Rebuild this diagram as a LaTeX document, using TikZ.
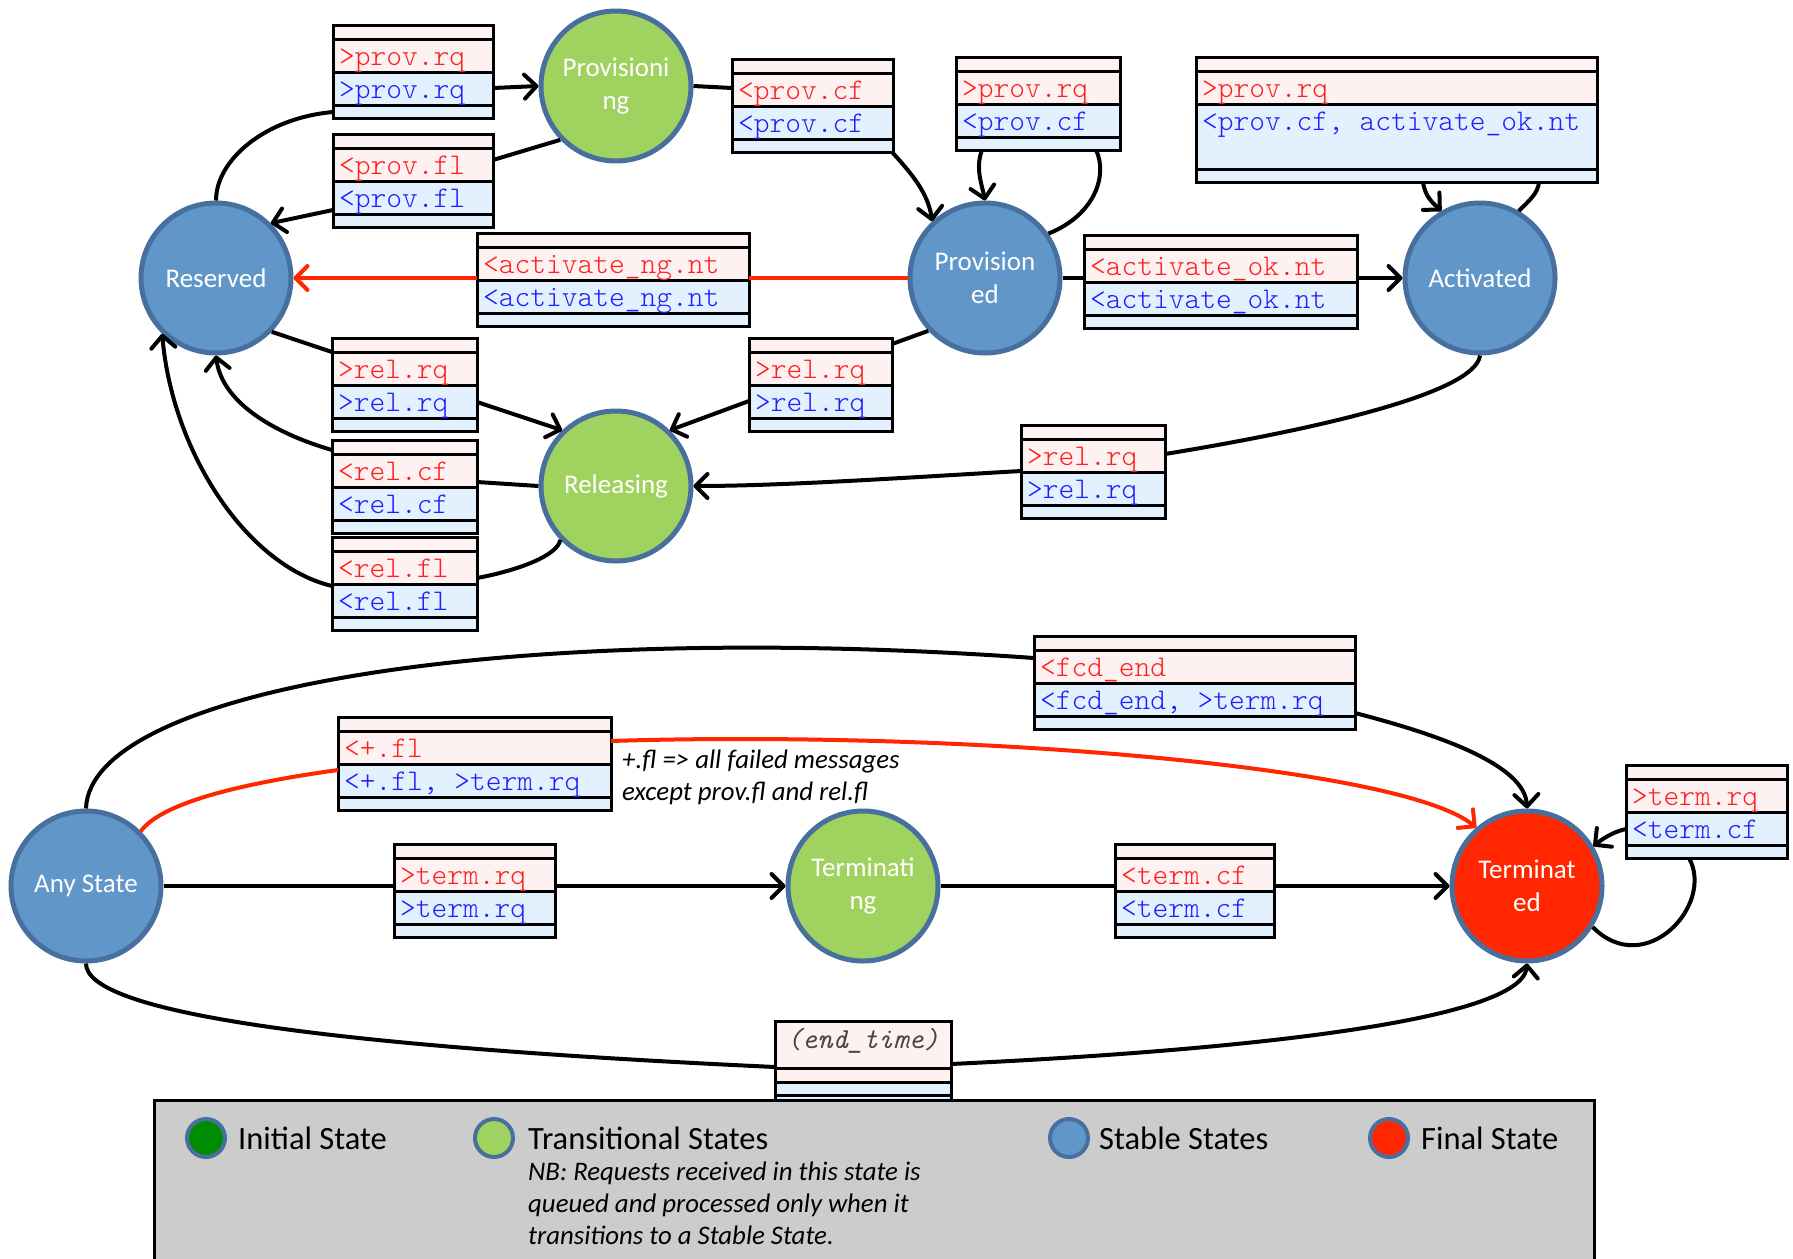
\documentclass[tikz,border=0pt]{standalone}
\usepackage{fontspec}
\setmainfont{Carlito}
\newfontfamily\msgface{lmmonolt10-regular}[Extension=.otf]
\usetikzlibrary{arrows.meta,calc}

\definecolor{stableblue}{RGB}{97,150,200}
\definecolor{ringblue}{RGB}{72,112,158}
\definecolor{transgreen}{RGB}{160,210,96}
\definecolor{finalred}{RGB}{255,38,0}
\definecolor{initgreen}{RGB}{0,140,0}
\definecolor{rowpink}{RGB}{254,241,241}
\definecolor{rowblue}{RGB}{227,240,253}
\definecolor{txtred}{RGB}{255,30,30}
\definecolor{txtblue}{RGB}{30,30,255}
\definecolor{legendgray}{RGB}{204,204,204}
\definecolor{notegray}{RGB}{70,70,70}

\newcommand\msgfont{\fontsize{30}{32}\selectfont\msgface}
\newcommand\timerfont{\fontsize{29}{32}\selectfont\ttfamily\itshape}
\newcommand\statefont{\fontsize{27}{33}\selectfont}
\newcommand\notefont{\fontsize{26.8}{32}\selectfont\itshape}
\newcommand\legfont{\fontsize{32.5}{36}\selectfont}

\tikzset{
  fsmstate/.style={circle, draw=ringblue, line width=5pt, minimum size=150pt,
    inner sep=0pt, text=white, font=\statefont, align=center},
  boxrule/.style={draw=black, line width=3pt},
  boxarea/.style={inner sep=0pt, outer sep=0pt, anchor=north west},
  msgtext/.style={anchor=base west, inner sep=0pt, font=\msgfont},
  conn/.style={draw=black, line width=4pt},
  redconn/.style={draw=finalred, line width=4pt},
  arr/.style={-{Straight Barb[length=12pt,width=24pt,round]}},
  note/.style={anchor=base west, inner sep=0pt, font=\notefont},
  legdot/.style={circle, draw=ringblue, line width=4pt, minimum size=38pt, inner sep=0pt},
  legtext/.style={anchor=base west, inner sep=0pt, font=\legfont},
}

% message box: [blue row height]{name}{x}{y top}{width}{received text}{sent text}
\newcommand\msgbox[7][33]{%
  \pgfmathsetmacro\mbxa{#3}%
  \pgfmathsetmacro\mbxb{#3+#5}%
  \pgfmathsetmacro\mbya{#4}%
  \pgfmathsetmacro\mbyb{#4+14}%
  \pgfmathsetmacro\mbyc{#4+47}%
  \pgfmathsetmacro\mbyd{#4+47+#1}%
  \pgfmathsetmacro\mbye{#4+60+#1}%
  \fill[rowpink] (\mbxa,\mbya) rectangle (\mbxb,\mbyc);
  \fill[rowblue] (\mbxa,\mbyc) rectangle (\mbxb,\mbye);
  \draw[boxrule] (\mbxa,\mbyb) -- (\mbxb,\mbyb) (\mbxa,\mbyc) -- (\mbxb,\mbyc)
                 (\mbxa,\mbyd) -- (\mbxb,\mbyd);
  \draw[boxrule] (\mbxa,\mbya) rectangle (\mbxb,\mbye);
  \node[msgtext, text=txtred] at (\mbxa+6,\mbya+40) {#6};
  \node[msgtext, text=txtblue] at (\mbxa+6,\mbyc+26) {#7};
  \node[boxarea, minimum width={#5*1pt}, minimum height={(60+#1)*1pt}] (#2) at (\mbxa,\mbya) {};
}

\begin{document}
\begin{tikzpicture}[x=1pt,y=-1pt]
\useasboundingbox (0,0) rectangle (1793,1258);
\fill[white] (0,0) rectangle (1793,1258);

% states
\node[fsmstate, fill=transgreen] (prov) at (616,86) {Provisioni\\ng};
\node[fsmstate, fill=stableblue] (res) at (216,278) {Reserved};
\node[fsmstate, fill=stableblue] (pd) at (985,278) {Provision\\ed};
\node[fsmstate, fill=stableblue] (act) at (1480,278) {Activated};
\node[fsmstate, fill=transgreen] (rls) at (616,486) {Releasing};
\node[fsmstate, fill=stableblue] (ast) at (86,886) {Any State};
\node[fsmstate, fill=transgreen] (tmg) at (863,886) {Terminati\\ng};
\node[fsmstate, fill=finalred] (tm) at (1527,886) {Terminat\\ed};

% message boxes
\msgbox{bA}{333}{25}{160}{>prov.rq}{>prov.rq}
\msgbox{bB}{333}{134}{160}{<prov.fl}{<prov.fl}
\msgbox{bC}{732}{59}{161}{<prov.cf}{<prov.cf}
\msgbox{bD}{956}{57}{164}{>prov.rq}{<prov.cf}
\msgbox{bE}{477}{233}{272}{<activate\_ng.nt}{<activate\_ng.nt}
\msgbox{bF}{1084}{235}{273}{<activate\_ok.nt}{<activate\_ok.nt}
\msgbox[65]{bG}{1196}{57}{401}{>prov.rq}{<prov.cf, activate\_ok.nt}
\msgbox{bH}{332}{338}{145}{>rel.rq}{>rel.rq}
\msgbox{bI}{749}{338}{143}{>rel.rq}{>rel.rq}
\msgbox{bJ}{1021}{425}{144}{>rel.rq}{>rel.rq}
\msgbox{bK}{332}{440}{145}{<rel.cf}{<rel.cf}
\msgbox{bL}{332}{537}{145}{<rel.fl}{<rel.fl}
\msgbox{bM}{1034}{636}{321}{<fcd\_end}{<fcd\_end, >term.rq}
\msgbox{bN}{338}{717}{273}{<+.fl}{<+.fl, >term.rq}
\msgbox{bO}{394}{844}{161}{>term.rq}{>term.rq}
\msgbox{bP}{1115}{844}{159}{<term.cf}{<term.cf}
\msgbox{bQ}{1626}{765}{161}{>term.rq}{<term.cf}

% timer box
\fill[rowpink] (775,1021) rectangle (951,1082);
\fill[rowblue] (775,1082) rectangle (951,1110);
\draw[boxrule] (775,1068) -- (951,1068) (775,1082) -- (951,1082) (775,1095) -- (951,1095);
\draw[boxrule] (775,1021) rectangle (951,1110);
\node[anchor=base, inner sep=0pt, font=\timerfont, text=notegray] (timer) at (863,1048) {(end\_time)};
\node[boxarea, minimum width=176pt, minimum height=89pt] (bR) at (775,1021) {};

% Reserved -> Provisioning
\draw[conn] (res.north) .. controls (216,160) and (265,118) .. ($(bA.south west)+(0,-6)$);
\draw[conn,arr] ($(bA.north west)+(160,63)$) -- (prov.west);
% Provisioning -> Reserved
\draw[conn] (prov.224) -- ($(bB.north east)+(0,26)$);
\draw[conn,arr] ($(bB.north west)+(0,76)$) -- (res.45);
% Provisioning -> Provisioned
\draw[conn] (prov.east) -- ($(bC.north west)+(0,29)$);
\draw[conn,arr] ($(bC.south east)+(-1,0)$) .. controls (910,172) and (928,192) .. (pd.133);
% Provisioned self-loop
\draw[conn,arr] ($(bD.south west)+(26,0)$) .. controls (975,168) and (982,185) .. (pd.north);
\draw[conn] (pd.35) .. controls (1095,215) and (1108,175) .. ($(bD.south east)+(-24,0)$);
% Provisioned -> Reserved (negative notification)
\draw[redconn] (pd.west) -- (pd.west -| bE.east);
\draw[redconn,arr] (res.east -| bE.west) -- (res.east);
% Provisioned -> Activated
\draw[conn] (pd.east) -- (pd.east -| bF.west);
\draw[conn,arr] (act.west -| bF.east) -- (act.west);
% Activated self-loop
\draw[conn,arr] ($(bG.south west)+(227,0)$) .. controls (1425,197) and (1433,203) .. (act.120);
\draw[conn] (act.60) .. controls (1530,200) and (1538,193) .. ($(bG.south west)+(343,0)$);
% Provisioned -> Releasing
\draw[conn] (pd.223) -- ($(bI.north east)+(0,6)$);
\draw[conn,arr] ($(bI.north west)+(0,63)$) -- (rls.46);
% Activated -> Releasing
\draw[conn] (act.south) .. controls (1475,395) and (1300,432) .. ($(bJ.north east)+(0,29)$);
\draw[conn,arr] ($(bJ.north west)+(0,46)$) .. controls (900,478) and (780,486) .. (rls.east);
% Reserved -> Releasing
\draw[conn] (res.-44) -- ($(bH.north west)+(0,14)$);
\draw[conn,arr] ($(bH.north east)+(0,64)$) -- (rls.134);
% Releasing -> Reserved
\draw[conn] (rls.west) -- ($(bK.north east)+(0,42)$);
\draw[conn,arr] ($(bK.north west)+(0,10)$) .. controls (280,435) and (222,405) .. (res.south);
\draw[conn] (rls.224) .. controls (558,555) and (520,570) .. ($(bL.north east)+(0,41)$);
\draw[conn,arr] ($(bL.north west)+(0,49)$) .. controls (245,565) and (172,450) .. (res.226);

% Any State -> Terminated
\draw[conn] (ast.north) .. controls (90,690) and (500,620) .. ($(bM.north west)+(0,22)$);
\draw[conn,arr] ($(bM.north east)+(0,77)$) .. controls (1440,735) and (1525,765) .. (tm.north);
\draw[redconn] (ast.45) .. controls (160,805) and (230,785) .. ($(bN.north west)+(0,53)$);
\draw[redconn,arr] ($(bN.north east)+(0,24)$) .. controls (950,730) and (1400,765) .. (tm.131);
\draw[conn] (ast.south) .. controls (86,1010) and (300,1045) .. ($(bR.north west)+(0,46)$);
\draw[conn,arr] ($(bR.north east)+(0,43)$) .. controls (1250,1050) and (1522,1020) .. (tm.south);
% Any State -> Terminating -> Terminated
\draw[conn] (ast.east) -- (ast.east -| bO.west);
\draw[conn,arr] (tmg.west -| bO.east) -- (tmg.west);
\draw[conn] (tmg.east) -- (tmg.east -| bP.west);
\draw[conn,arr] (tm.west -| bP.east) -- (tm.west);
% Terminated self-loop
\draw[conn,arr] ($(bQ.north west)+(0,64)$) .. controls (1612,832) and (1601,840) .. (tm.31);
\draw[conn] ($(bQ.south west)+(63,0)$) .. controls (1715,905) and (1645,980) .. (tm.-32);

% note on failed messages
\node[note] (flnote1) at (622,768) {+.fl => all failed messages};
\node[note] (flnote2) at (622,800) {except prov.fl and rel.fl};

% legend
\fill[legendgray] (154,1100) rectangle (1594,1262);
\draw[line width=3pt] (154,1262) -- (154,1100) -- (1594,1100) -- (1594,1262);
\node[legdot, fill=initgreen] (lgInit) at (206,1138) {};
\node[legtext] (lgInitT) at (238,1149) {Initial State};
\node[legdot, fill=transgreen] (lgTrans) at (494,1138) {};
\node[legtext] (lgTransT) at (528,1149) {Transitional States};
\node[note] (nb1) at (528,1180) {NB: Requests received in this state is};
\node[note] (nb2) at (528,1212) {queued and processed only when it};
\node[note] (nb3) at (528,1244) {transitions to a Stable State.};
\node[legdot, fill=stableblue] (lgStable) at (1069,1138) {};
\node[legtext] (lgStableT) at (1099,1149) {Stable States};
\node[legdot, fill=finalred] (lgFinal) at (1389,1138) {};
\node[legtext] (lgFinalT) at (1421,1149) {Final State};
\end{tikzpicture}
\end{document}
